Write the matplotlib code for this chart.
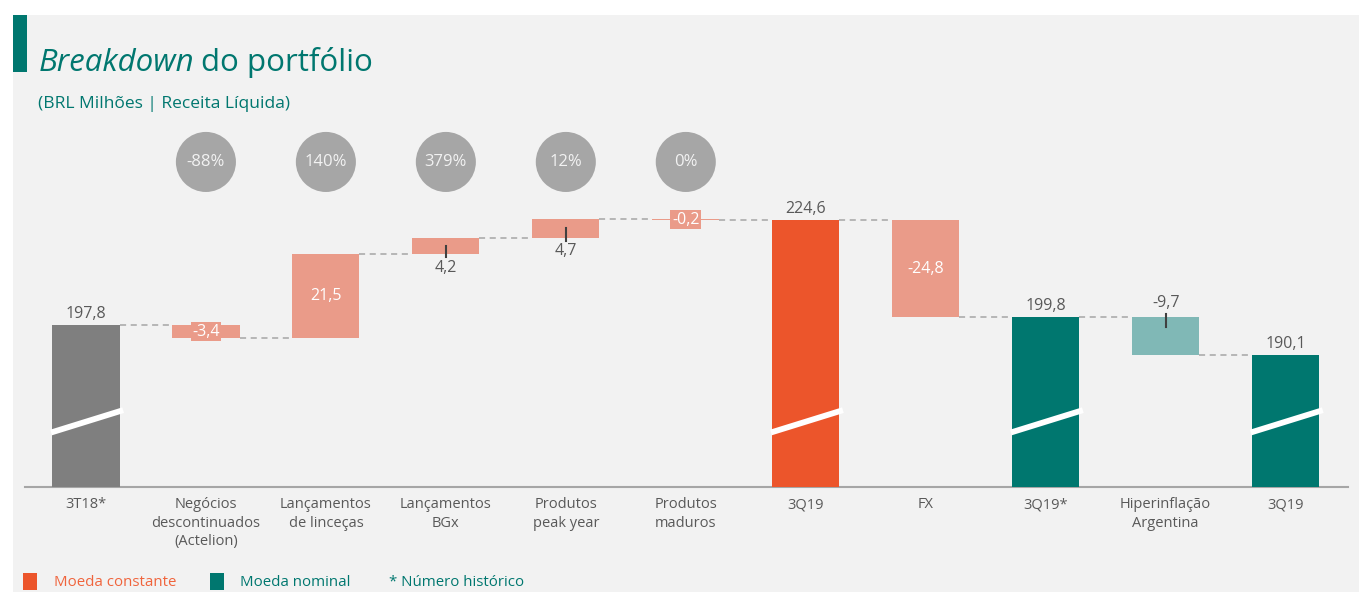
import numpy as np
import matplotlib.pyplot as plt
from matplotlib.patches import Rectangle

plt.rcParams['font.family'] = ['Open Sans', 'DejaVu Sans']

# dados
categorias = ['3T18*', 'Negócios\ndescontinuados\n(Actelion)', 'Lançamentos\nde linceças',
              'Lançamentos\nBGx', 'Produtos\npeak year', 'Produtos\nmaduros', '3Q19', 'FX',
              '3Q19*', 'Hiperinflação\nArgentina', '3Q19']
valores = [197.8, -3.4, 21.5, 4.2, 4.7, -0.2, 224.6, -24.8, 199.8, -9.7, 190.1]
eh_total = [True, False, False, False, False, False, True, False, True, False, True]
rotulos = ['197,8', '-3,4', '21,5', '4,2', '4,7', '-0,2', '224,6', '-24,8', '199,8', '-9,7', '190,1']
crescimento = ['-88%', '140%', '379%', '12%', '0%']
cresc_idx = [1, 2, 3, 4, 5]

# cores
TEAL = '#00776f'
LARANJA = '#ec552b'
SALMAO = '#ea9b89'
CINZA = '#7f7f7f'
TEAL_CLARO = '#80b8b6'
TXT = '#595959'
FUNDO = '#f2f2f2'
cores = [CINZA, SALMAO, SALMAO, SALMAO, SALMAO, SALMAO, LARANJA, SALMAO, TEAL, TEAL_CLARO, TEAL]

W, H = 1359, 592
fig = plt.figure(figsize=(W / 100, H / 100), dpi=100, facecolor='white')
fx = lambda px: px / W
fy = lambda py: 1 - py / H

# fundo cinza claro
fig.patches.append(Rectangle((fx(13), 0), 1 - fx(13), fy(15), transform=fig.transFigure,
                             facecolor=FUNDO, edgecolor='none', zorder=-10))
fig.patches.append(Rectangle((fx(13), fy(72)), fx(14), fy(15) - fy(72), transform=fig.transFigure,
                             facecolor=TEAL, edgecolor='none', zorder=-5))

# titulo
t1 = fig.text(fx(39), fy(71), 'Breakdown', fontsize=22.5, style='italic', color=TEAL, va='baseline')
fig.canvas.draw()
bb = t1.get_window_extent(renderer=fig.canvas.get_renderer())
fig.text(bb.x1 / W + fx(6), fy(71), 'do portfólio', fontsize=22.5, color=TEAL, va='baseline')
fig.text(fx(38), fy(104), '(BRL Milhões | Receita Líquida)', fontsize=12.5, color=TEAL, va='center')

ax = fig.add_axes([fx(25), fy(487), fx(1348) - fx(25), fy(120) - fy(487)])
ax.set_facecolor('none')
base = 156.5
ax.set_xlim(-0.508, 10.52)
ax.set_ylim(base, 250.1)

x = np.arange(len(valores))
larg = 0.56
fundos, topos = [], []
acum = 0
for v, tot in zip(valores, eh_total):
    if tot:
        fundos.append(base)
        topos.append(v)
        acum = v
    else:
        novo = acum + v
        fundos.append(min(acum, novo))
        topos.append(max(acum, novo))
        acum = novo

ax.bar(x, np.array(topos) - np.array(fundos), bottom=fundos, width=larg, color=cores,
       edgecolor='none', zorder=3)

# conectores tracejados
acum = 0
for i, (v, tot) in enumerate(zip(valores, eh_total)):
    acum = v if tot else acum + v
    if i < len(valores) - 1:
        ax.plot([i + larg / 2, i + 1 - larg / 2], [acum, acum], color='#a6a6a6', lw=1.1,
                ls=(0, (4, 3)), zorder=2)

# barra quebrada (traço branco)
for i, tot in enumerate(eh_total):
    if tot:
        ax.plot([i - 0.29, i + 0.31], [170.4, 176.1], color='white', lw=4.2,
                solid_capstyle='butt', zorder=4, clip_on=False)

# rotulos
for i, r in enumerate(rotulos):
    lo, hi = fundos[i], topos[i]
    if eh_total[i]:
        ax.annotate(r, (i, hi), xytext=(0, 2.5), textcoords='offset points', ha='center',
                    va='bottom', fontsize=11.5, color=TXT, zorder=6)
    elif i == 9:
        ax.annotate(r, (i, hi), xytext=(0, 4.7), textcoords='offset points', ha='center',
                    va='bottom', fontsize=11.5, color=TXT, zorder=6)
        ax.plot([i, i], [hi + 0.7, hi - 2.6], color='#404040', lw=1.5, zorder=5)
    elif i in (1, 5):
        ax.text(i, (lo + hi) / 2, r, ha='center', va='center', fontsize=11.5, color='white',
                zorder=6, bbox=dict(boxstyle='square,pad=0.1', fc=SALMAO, ec='none'))
    elif i in (2, 7):
        ax.text(i, (lo + hi) / 2, r, ha='center', va='center', fontsize=11.5, color='white', zorder=6)
    else:
        ax.plot([i, i], [(lo + hi) / 2, lo - 0.8], color='#404040', lw=1.5, zorder=5)
        ax.annotate(r, (i, lo), xytext=(0, -4), textcoords='offset points', ha='center',
                    va='top', fontsize=11.5, color=TXT, zorder=6)

# circulos de crescimento
ax.scatter(cresc_idx, [239.4] * len(cresc_idx), s=1870, color='#a6a6a6', edgecolor='none',
           zorder=3, clip_on=False)
for i, c in zip(cresc_idx, crescimento):
    ax.text(i, 239.4, c, ha='center', va='center', fontsize=12, color=FUNDO, zorder=4)

for s in ['top', 'right', 'left']:
    ax.spines[s].set_visible(False)
ax.spines['bottom'].set_color('#a6a6a6')
ax.spines['bottom'].set_linewidth(1.5)
ax.set_yticks([])
ax.set_xticks(x)
ax.set_xticklabels(categorias, fontsize=10.5, color=TXT, linespacing=1.3)
ax.tick_params(axis='x', length=0, pad=7.5)

# legenda
fig.patches.append(Rectangle((fx(23), fy(590)), fx(14), fy(573) - fy(590), transform=fig.transFigure,
                             facecolor=LARANJA, edgecolor='none'))
fig.text(fx(54), fy(582), 'Moeda constante', fontsize=10.8, color='#f0643c', va='center')
fig.patches.append(Rectangle((fx(210), fy(590)), fx(14), fy(573) - fy(590), transform=fig.transFigure,
                             facecolor=TEAL, edgecolor='none'))
fig.text(fx(240), fy(582), 'Moeda nominal', fontsize=10.8, color=TEAL, va='center')
fig.text(fx(389), fy(582), '* Número histórico', fontsize=10.8, color=TEAL, va='center')

fig.savefig('out.png', dpi=100, facecolor='white')
